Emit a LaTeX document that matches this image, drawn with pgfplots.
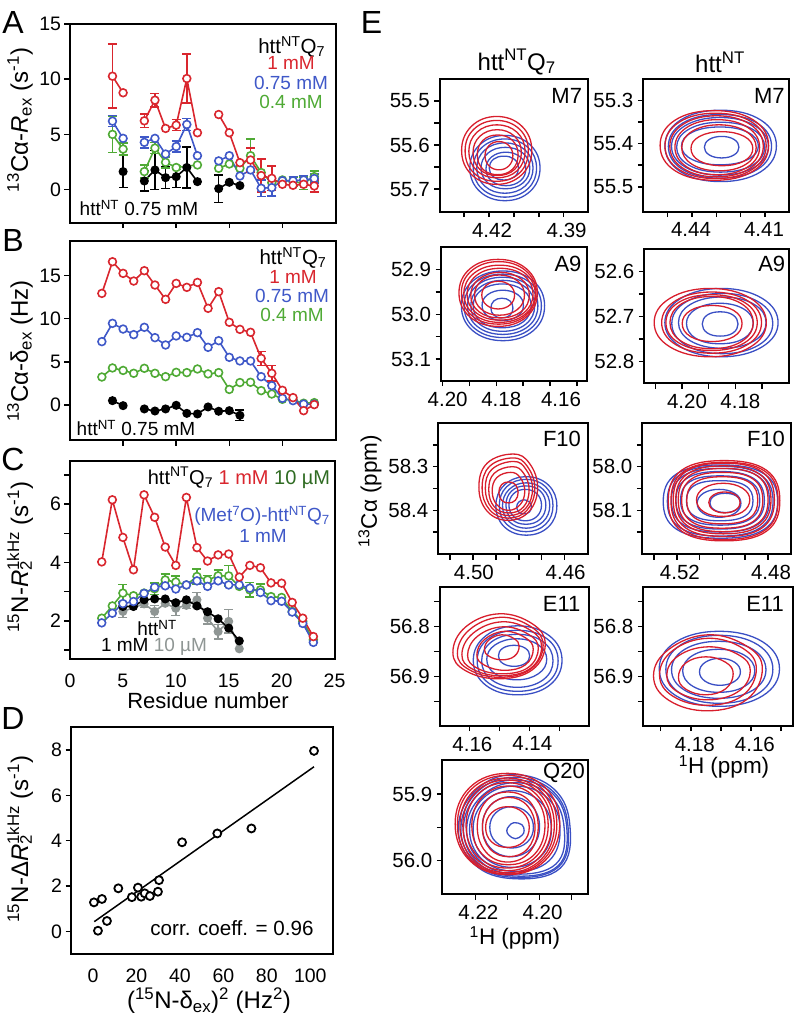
\documentclass[border=0pt]{standalone}
\usepackage{fontspec}
\setmainfont{Liberation Sans}
\usepackage{pgfplots}
\pgfplotsset{compat=1.18}
\definecolor{cR}{HTML}{D9262E}
\definecolor{cB}{HTML}{3F58C8}
\definecolor{cG}{HTML}{4FAA35}
\definecolor{cD}{HTML}{2F6B22}
\definecolor{cY}{HTML}{8F9694}
\definecolor{sR}{HTML}{D81E2C}
\definecolor{sB}{HTML}{3A4FC4}
\newcommand\fnt[1]{\fontsize{#1}{#1}\selectfont}
\newcommand\htt{htt\textsuperscript{NT}}
\newcommand\httq{htt\textsuperscript{NT}Q\textsubscript{7}}
\newcommand\rtwo{\textit{R}\rlap{\textsubscript{2}}\textsuperscript{1kHz}}
\pgfplotsset{
  base/.style={scale only axis, axis line style={line width=2pt}, tick style={black,line width=1.5pt},
    tick align=outside, xtick pos=bottom, ytick pos=left, major tick length=5.5pt,
    ticklabel style={font=\fnt{19.5}}, /pgf/number format/assume math mode=true, scaled ticks=false,
    unbounded coords=jump},
  spec/.style={base, x dir=reverse, y dir=reverse, ticklabel style={font=\fnt{20.5}},
    yticklabel style={xshift=-1pt}, xticklabel style={yshift=-2pt}},
  rc/.style={color=sR,line width=1.3pt,no markers,smooth cycle,tension=0.7},
  bc/.style={color=sB,line width=1.3pt,no markers,smooth cycle,tension=0.7},
  op/.style={color=#1,line width=1.6pt,mark=*,mark size=3.9pt,mark options={fill=white,line width=1.6pt},
    error bars/.cd,y dir=both,y explicit,error bar style={line width=1.5pt},
    error mark options={rotate=90,mark size=4.5pt,line width=1.5pt}},
  fl/.style={color=#1,line width=1.6pt,mark=*,mark size=3.7pt,mark options={fill=#1},
    error bars/.cd,y dir=both,y explicit,error bar style={line width=1.5pt},
    error mark options={rotate=90,mark size=4.5pt,line width=1.5pt}},
}
\newcommand\Rc[1]{\addplot[rc] coordinates {#1};}
\newcommand\Bc[1]{\addplot[bc] coordinates {#1};}
\begin{document}
\begin{tikzpicture}[x=1pt,y=-1pt]
\path[use as bounding box] (0,0) rectangle (796,1017);
% A
\begin{axis}[base,at={(70pt,-222.7pt)},anchor=south west,width=265.5pt,height=198.7pt,xmin=0,xmax=25,ymin=-3,ymax=15,
  xtick={5,10,15,20},xticklabels={},ytick={0,5,10,15}]
\addplot[fl=black] coordinates {(5,1.63)+-(0,1.45)(6,nan)(7,0.78)+-(0,0.9)(8,1.78)+-(0,1.75)(9,1.08)+-(0,1)(10,1.17)+-(0,1)(11,2)+-(0,1.85)(12,0.72)(13,nan)(14,0.09)+-(0,1.25)(15,0.66)(16,0.36)};
\addplot[op=cG] coordinates {(4,5)+-(0,1.65)(5,3.67)+-(0,0.55)(6,nan)(7,1.63)+-(0,0.6)(8,3.76)+-(0,0.5)(9,2.47)+-(0,0.5)(10,2)+-(0,0.2)(12,2.23)(13,nan)(14,1.93)(15,2.32)(16,1.93)(17,3.07)+-(0,1.5)(18,1.54)(19,0.63)(20,0.87)(21,0.72)+-(0,0.4)(22,0.57)+-(0,0.55)(23,1.17)+-(0,0.5)};
\addplot[op=cB] coordinates {(4,6.2)+-(0,0.5)(5,4.64)(6,nan)(7,4.28)+-(0,0.5)(8,4.64)(9,3.22)(10,3.9)+-(0,0.5)(11,5.9)+-(0,0.55)(12,3.07)(13,nan)(14,2.6)(15,3.07)(16,1.23)(17,1.78)(18,0.12)+-(0,0.75)(19,0.18)+-(0,0.75)(20,0.8)(21,0.8)+-(0,0.4)(22,0.87)+-(0,0.4)(23,1)+-(0,0.4)};
\addplot[op=cR] coordinates {(4,10.27)+-(0,2.9)(5,8.77)(6,nan)(7,6.23)+-(0,0.6)(8,8.1)+-(0,0.6)(9,5.54)(10,5.84)+-(0,0.5)(11,10.06)+-(0,2.2)(12,5.15)(13,nan)(14,6.8)(15,5.15)(16,2.44)(17,2.68)+-(0,1.1)(18,1.27)+-(0,1.5)(19,1.02)+-(0,1.1)(20,0.48)(21,0.39)(22,0.48)(23,0.33)+-(0,0.55)};
\end{axis}
% B
\begin{axis}[base,at={(70pt,-440pt)},anchor=south west,width=265.5pt,height=199pt,xmin=0,xmax=25,ymin=-4.06,ymax=19,
  xtick={5,10,15,20},xticklabels={},ytick={0,5,10,15}]
\addplot[fl=black] coordinates {(4,0.5)(5,-0.08)(6,nan)(7,-0.46)(8,-0.7)(9,-0.46)(10,-0.04)(11,-0.97)(12,-1.04)(13,-0.23)(14,-0.73)(15,-0.66)(16,-1.2)+-(0,0.6)};
\addplot[op=cG] coordinates {(3,3.24)(4,4.29)(5,4)(6,3.67)(7,4.25)(8,3.67)(9,3.28)(10,3.78)(11,3.75)(12,4.17)(13,3.6)(14,3.75)(15,1.8)(16,2.6)(17,2.63)(18,1.66)(19,1.27)(20,0.66)(21,0.6)(22,0.2)(23,0.27)};
\addplot[op=cB] coordinates {(3,7.34)(4,9.46)(5,8.8)(6,8.15)(7,9)(8,7.8)(9,6.95)(10,8)(11,7.84)(12,8.38)(13,6.68)(14,7.45)(15,5.52)(16,5.1)(17,5.1)(18,3.28)(19,2.24)(20,0.77)(21,0.5)(22,0.1)(23,0.1)};
\addplot[op=cR] coordinates {(3,12.93)(4,16.6)(5,15.25)(6,14.36)(7,15.56)(8,13.9)(9,12.24)(10,14.09)(11,13.63)(12,14.2)(13,11.2)(14,13.13)(15,9.58)(16,8.76)(17,8.42)(18,5.4)+-(0,0.8)(19,3.67)+-(0,0.9)(20,1.7)(21,0.85)(22,-0.66)(23,0.04)};
\end{axis}
% C
\begin{axis}[base,at={(70pt,-659pt)},anchor=south west,width=264.5pt,height=198pt,xmin=0,xmax=25,ymin=0.69,ymax=7.48,
  xtick={0,5,...,25},ytick={1,2,...,7},yticklabels={,2,,4,,6,},major x tick style={draw=none},xticklabel style={yshift=-6pt}]
\addplot[fl=cY] coordinates {(5,2.32)+-(0,0.2)(7,2.58)+-(0,0.12)(8,2.32)+-(0,0.2)(9,2.6)(10,2.43)+-(0,0.25)(11,2.53)+-(0,0.1)(12,2.72)+-(0,0.25)(13,2.09)+-(0,0.2)(14,1.63)+-(0,0.25)(15,1.98)+-(0,0.4)(16,1.04)};
\addplot[fl=black] coordinates {(5,2.49)(6,2.49)(7,2.72)(8,2.75)(9,2.75)(10,2.62)(11,2.72)(12,2.51)(13,2.31)(14,2.07)(15,1.75)(16,1.31)};
\addplot[op=cG] coordinates {(3,2.09)(4,2.51)(5,2.95)+-(0,0.3)(6,2.86)(7,2.95)(8,3.1)+-(0,0.2)(9,3.4)+-(0,0.2)(10,3.33)+-(0,0.2)(11,3.23)(12,3.52)+-(0,0.25)(13,3.4)+-(0,0.15)(14,3.54)+-(0,0.2)(15,3.54)+-(0,0.35)(16,3.18)(17,3.06)+-(0,0.25)(18,3.06)+-(0,0.2)(19,2.83)(20,2.8)(21,2.32)(22,1.98)(23,1.35)};
\addplot[op=cB] coordinates {(3,1.93)(4,2.26)(5,2.59)(6,2.66)(7,2.94)(8,3.15)(9,3.2)(10,3.09)(11,3.23)(12,3.37)(13,3.18)(14,3.37)(15,3.23)(16,3.23)(17,3.12)(18,2.97)(19,2.69)(20,2.67)(21,2.3)(22,1.91)(23,1.26)};
\addplot[op=cR] coordinates {(3,4.02)(4,6.15)(5,4.86)(6,3.75)(7,6.32)(8,5.55)(9,4.53)(10,3.9)(11,6.23)(12,4.51)(13,4.05)(14,4.26)(15,4.29)(16,3.5)(17,3.9)(18,3.82)(19,3.3)(20,3.29)(21,2.63)(22,2.09)(23,1.46)};
\end{axis}
% D
\begin{axis}[base,at={(71pt,-954.3pt)},anchor=south west,width=261.7pt,height=227pt,xmin=-10.1,xmax=110.3,ymin=-1.01,ymax=9,
  xtick={0,20,...,100},ytick={0,2,...,8},major x tick style={draw=none},xticklabel style={yshift=-6pt}]
\addplot[black,line width=1.5pt] coordinates {(0.6,0.43)(101.7,7.26)};
\addplot[only marks,mark=*,mark size=4pt,mark options={fill=white,draw=black,line width=1.8pt}] coordinates {(0.46,1.28)(4.14,1.43)(2.3,0.03)(6.44,0.46)(11.66,1.9)(17.9,1.51)(20.7,1.93)(22.2,1.53)(23.8,1.68)(26.2,1.56)(29.9,1.75)(30.4,2.26)(41,3.93)(57.2,4.32)(72.9,4.54)(101.7,7.96)};
\end{axis}
% E, M7
\begin{axis}[spec,at={(439.7pt,-211.7pt)},anchor=south west,width=148.6pt,height=132.7pt,xmin=4.3801,xmax=4.4398,ymin=55.45,ymax=55.751,
  xtick={4.43,4.42,4.41,4.40,4.39},xticklabels={,4.42,,,4.39},ytick={55.5,55.55,55.6,55.65,55.7},yticklabels={55.5,,55.6,,55.7},xticklabel style={xshift=3pt}]
\Bc{(4.3995,55.652)(4.4035,55.599)(4.4136,55.578)(4.4237,55.599)(4.4277,55.652)(4.4237,55.705)(4.4136,55.726)(4.4035,55.705)}
\Bc{(4.4009,55.652)(4.4044,55.605)(4.4136,55.586)(4.4228,55.605)(4.4263,55.652)(4.4228,55.699)(4.4136,55.718)(4.4044,55.699)}
\Bc{(4.4023,55.652)(4.4055,55.611)(4.4136,55.595)(4.4217,55.611)(4.4249,55.652)(4.4217,55.693)(4.4136,55.709)(4.4055,55.693)}
\Bc{(4.4036,55.652)(4.4064,55.618)(4.4134,55.605)(4.4204,55.618)(4.4232,55.652)(4.4204,55.686)(4.4134,55.699)(4.4064,55.686)}
\Bc{(4.4052,55.654)(4.4074,55.627)(4.4132,55.616)(4.4190,55.627)(4.4212,55.654)(4.4190,55.681)(4.4132,55.692)(4.4074,55.681)}
\Bc{(4.4081,55.652)(4.4098,55.632)(4.4140,55.625)(4.4182,55.632)(4.4199,55.652)(4.4182,55.672)(4.4140,55.679)(4.4098,55.672)}
\Rc{(4.4028,55.612)(4.4068,55.557)(4.4169,55.535)(4.4270,55.557)(4.4310,55.612)(4.4270,55.667)(4.4169,55.689)(4.4068,55.667)}
\Rc{(4.4042,55.613)(4.4077,55.564)(4.4169,55.544)(4.4261,55.564)(4.4296,55.613)(4.4261,55.663)(4.4169,55.682)(4.4077,55.663)}
\Rc{(4.4055,55.614)(4.4087,55.571)(4.4168,55.554)(4.4249,55.571)(4.4281,55.614)(4.4249,55.658)(4.4168,55.674)(4.4087,55.658)}
\Rc{(4.4070,55.617)(4.4097,55.580)(4.4167,55.565)(4.4237,55.580)(4.4264,55.617)(4.4237,55.655)(4.4167,55.669)(4.4097,55.655)}
\Rc{(4.4083,55.622)(4.4106,55.589)(4.4165,55.577)(4.4224,55.589)(4.4247,55.622)(4.4224,55.655)(4.4165,55.667)(4.4106,55.655)}
\Rc{(4.4104,55.624)(4.4120,55.601)(4.4160,55.592)(4.4200,55.601)(4.4216,55.624)(4.4200,55.647)(4.4160,55.656)(4.4120,55.647)}
\end{axis}
\begin{axis}[spec,at={(643.3pt,-211.7pt)},anchor=south west,width=146pt,height=132.7pt,xmin=4.40,xmax=4.46,ymin=55.2495,ymax=55.558,
  xtick={4.45,4.44,4.43,4.42,4.41},xticklabels={,4.44,,,4.41},ytick={55.3,55.35,55.4,55.45,55.5},yticklabels={55.3,,55.4,,55.5},xticklabel style={xshift=-1pt}]
\Bc{(4.4053,55.405)(4.4117,55.345)(4.4282,55.322)(4.4447,55.345)(4.4511,55.405)(4.4447,55.465)(4.4282,55.488)(4.4117,55.465)}
\Bc{(4.4073,55.406)(4.4132,55.352)(4.4285,55.332)(4.4438,55.352)(4.4497,55.406)(4.4438,55.460)(4.4285,55.480)(4.4132,55.460)}
\Bc{(4.4086,55.406)(4.4142,55.358)(4.4285,55.339)(4.4428,55.358)(4.4484,55.406)(4.4428,55.454)(4.4285,55.473)(4.4142,55.454)}
\Bc{(4.4101,55.408)(4.4152,55.366)(4.4282,55.350)(4.4412,55.366)(4.4463,55.408)(4.4412,55.450)(4.4282,55.466)(4.4152,55.450)}
\Bc{(4.4127,55.405)(4.4172,55.373)(4.4285,55.361)(4.4398,55.373)(4.4443,55.405)(4.4398,55.437)(4.4285,55.449)(4.4172,55.437)}
\Bc{(4.4207,55.408)(4.4227,55.390)(4.4278,55.383)(4.4329,55.390)(4.4349,55.408)(4.4329,55.426)(4.4278,55.433)(4.4227,55.426)}
\Rc{(4.4085,55.404)(4.4147,55.345)(4.4308,55.323)(4.4469,55.345)(4.4531,55.404)(4.4469,55.463)(4.4308,55.485)(4.4147,55.463)}
\Rc{(4.4095,55.405)(4.4153,55.350)(4.4303,55.329)(4.4453,55.350)(4.4511,55.405)(4.4453,55.460)(4.4303,55.481)(4.4153,55.460)}
\Rc{(4.4107,55.406)(4.4161,55.355)(4.4299,55.335)(4.4437,55.355)(4.4491,55.406)(4.4437,55.457)(4.4299,55.477)(4.4161,55.457)}
\Rc{(4.4122,55.408)(4.4171,55.362)(4.4296,55.344)(4.4421,55.362)(4.4470,55.408)(4.4421,55.454)(4.4296,55.472)(4.4171,55.454)}
\Rc{(4.4136,55.409)(4.4179,55.371)(4.4289,55.356)(4.4399,55.371)(4.4442,55.409)(4.4399,55.448)(4.4289,55.463)(4.4179,55.448)}
\Rc{(4.4150,55.411)(4.4185,55.383)(4.4277,55.372)(4.4369,55.383)(4.4404,55.411)(4.4369,55.440)(4.4277,55.451)(4.4185,55.440)}
\end{axis}
% A9
\begin{axis}[spec,at={(441pt,-380.7pt)},anchor=south west,width=146pt,height=133.4pt,xmin=4.1462,xmax=4.2006,ymin=52.85,ymax=53.1486,
  xtick={4.20,4.19,4.18,4.17,4.16,4.15},xticklabels={4.20,,4.18,,\hspace*{12pt}4.16,},ytick={52.9,52.95,53.0,53.05,53.1},yticklabels={52.9,,53.0,,53.1},xticklabel style={xshift=5pt}]
\Bc{(4.1620,52.981)(4.1663,52.925)(4.1775,52.903)(4.1887,52.925)(4.1930,52.981)(4.1887,53.037)(4.1775,53.059)(4.1663,53.037)}
\Bc{(4.1632,52.981)(4.1672,52.930)(4.1776,52.910)(4.1880,52.930)(4.1920,52.981)(4.1880,53.032)(4.1776,53.052)(4.1672,53.032)}
\Bc{(4.1645,52.981)(4.1681,52.935)(4.1776,52.917)(4.1871,52.935)(4.1907,52.981)(4.1871,53.027)(4.1776,53.045)(4.1681,53.027)}
\Bc{(4.1657,52.981)(4.1690,52.940)(4.1776,52.924)(4.1862,52.940)(4.1895,52.981)(4.1862,53.022)(4.1776,53.038)(4.1690,53.022)}
\Bc{(4.1670,52.981)(4.1700,52.946)(4.1778,52.932)(4.1856,52.946)(4.1886,52.981)(4.1856,53.017)(4.1778,53.030)(4.1700,53.017)}
\Bc{(4.1699,52.980)(4.1720,52.956)(4.1776,52.946)(4.1832,52.956)(4.1853,52.980)(4.1832,53.004)(4.1776,53.014)(4.1720,53.004)}
\Bc{(4.1738,52.986)(4.1749,52.970)(4.1779,52.964)(4.1809,52.970)(4.1820,52.986)(4.1809,53.002)(4.1779,53.008)(4.1749,53.002)}
\Rc{(4.1647,52.952)(4.1688,52.898)(4.1793,52.877)(4.1898,52.898)(4.1939,52.952)(4.1898,53.006)(4.1793,53.027)(4.1688,53.006)}
\Rc{(4.1652,52.952)(4.1691,52.902)(4.1791,52.882)(4.1891,52.902)(4.1930,52.952)(4.1891,53.003)(4.1791,53.022)(4.1691,53.003)}
\Rc{(4.1655,52.954)(4.1693,52.908)(4.1788,52.890)(4.1883,52.908)(4.1921,52.954)(4.1883,53.000)(4.1788,53.018)(4.1693,53.000)}
\Rc{(4.1663,52.955)(4.1698,52.913)(4.1786,52.897)(4.1874,52.913)(4.1909,52.955)(4.1874,52.997)(4.1786,53.013)(4.1698,52.997)}
\Rc{(4.1677,52.957)(4.1707,52.921)(4.1786,52.906)(4.1865,52.921)(4.1895,52.957)(4.1865,52.994)(4.1786,53.008)(4.1707,52.994)}
\Rc{(4.1695,52.957)(4.1721,52.925)(4.1788,52.912)(4.1855,52.925)(4.1881,52.957)(4.1855,52.989)(4.1788,53.002)(4.1721,52.989)}
\Rc{(4.1732,52.957)(4.1749,52.935)(4.1793,52.926)(4.1837,52.935)(4.1854,52.957)(4.1837,52.979)(4.1793,52.988)(4.1749,52.979)}
\end{axis}
\begin{axis}[spec,at={(644.3pt,-383.3pt)},anchor=south west,width=145pt,height=134.3pt,xmin=4.1598,xmax=4.2141,ymin=52.5504,ymax=52.8489,
  xtick={4.21,4.20,4.19,4.18,4.17},xticklabels={,4.20,,4.18,},ytick={52.6,52.65,52.7,52.75,52.8},yticklabels={52.6,,52.7,,52.8},xticklabel style={xshift=5pt}]
\Bc{(4.1640,52.714)(4.1700,52.660)(4.1852,52.638)(4.2004,52.660)(4.2064,52.714)(4.2004,52.768)(4.1852,52.790)(4.1700,52.768)}
\Bc{(4.1660,52.716)(4.1713,52.668)(4.1849,52.649)(4.1985,52.668)(4.2038,52.716)(4.1985,52.764)(4.1849,52.783)(4.1713,52.764)}
\Bc{(4.1685,52.714)(4.1731,52.673)(4.1849,52.657)(4.1967,52.673)(4.2013,52.714)(4.1967,52.755)(4.1849,52.771)(4.1731,52.755)}
\Bc{(4.1733,52.716)(4.1768,52.684)(4.1858,52.671)(4.1948,52.684)(4.1983,52.716)(4.1948,52.749)(4.1858,52.761)(4.1768,52.749)}
\Bc{(4.1790,52.717)(4.1809,52.697)(4.1857,52.690)(4.1905,52.697)(4.1924,52.717)(4.1905,52.737)(4.1857,52.744)(4.1809,52.737)}
\Rc{(4.1684,52.714)(4.1743,52.660)(4.1894,52.638)(4.2045,52.660)(4.2104,52.714)(4.2045,52.768)(4.1894,52.790)(4.1743,52.768)}
\Rc{(4.1702,52.714)(4.1755,52.665)(4.1889,52.646)(4.2023,52.665)(4.2076,52.714)(4.2023,52.763)(4.1889,52.782)(4.1755,52.763)}
\Rc{(4.1718,52.714)(4.1766,52.669)(4.1889,52.652)(4.2012,52.669)(4.2060,52.714)(4.2012,52.759)(4.1889,52.776)(4.1766,52.759)}
\Rc{(4.1733,52.714)(4.1777,52.672)(4.1889,52.656)(4.2001,52.672)(4.2045,52.714)(4.2001,52.756)(4.1889,52.772)(4.1777,52.756)}
\Rc{(4.1775,52.716)(4.1806,52.687)(4.1887,52.676)(4.1968,52.687)(4.1999,52.716)(4.1968,52.745)(4.1887,52.756)(4.1806,52.745)}
\end{axis}
% F10
\begin{axis}[spec,at={(438.3pt,-554pt)},anchor=south west,width=150pt,height=130.7pt,xmin=4.4497,xmax=4.5151,ymin=58.2005,ymax=58.5002,
  xtick={4.51,4.50,4.49,4.48,4.47,4.46},xticklabels={,4.50,,,,4.46},ytick={58.25,58.3,58.35,58.4,58.45},yticklabels={,58.3,,58.4,},xticklabel style={xshift=1pt}]
\Bc{(4.4634,58.390)(4.4671,58.342)(4.4767,58.323)(4.4863,58.342)(4.4900,58.390)(4.4863,58.438)(4.4767,58.457)(4.4671,58.438)}
\Bc{(4.4651,58.389)(4.4683,58.346)(4.4768,58.329)(4.4853,58.346)(4.4885,58.389)(4.4853,58.432)(4.4768,58.449)(4.4683,58.432)}
\Bc{(4.4665,58.389)(4.4694,58.352)(4.4768,58.337)(4.4842,58.352)(4.4871,58.389)(4.4842,58.426)(4.4768,58.441)(4.4694,58.426)}
\Bc{(4.4682,58.388)(4.4706,58.356)(4.4769,58.344)(4.4832,58.356)(4.4856,58.388)(4.4832,58.420)(4.4769,58.432)(4.4706,58.420)}
\Bc{(4.4701,58.388)(4.4721,58.362)(4.4772,58.352)(4.4823,58.362)(4.4843,58.388)(4.4823,58.414)(4.4772,58.424)(4.4721,58.414)}
\Bc{(4.4745,58.392)(4.4754,58.381)(4.4777,58.376)(4.4800,58.381)(4.4809,58.392)(4.4800,58.404)(4.4777,58.408)(4.4754,58.404)}
\Rc{(4.4718,58.347)(4.4754,58.292)(4.4826,58.271)(4.4938,58.292)(4.4974,58.347)(4.4938,58.402)(4.4846,58.423)(4.4754,58.402)}
\Rc{(4.4730,58.349)(4.4763,58.299)(4.4825,58.280)(4.4927,58.299)(4.4960,58.349)(4.4927,58.399)(4.4845,58.418)(4.4763,58.399)}
\Rc{(4.4740,58.350)(4.4769,58.306)(4.4823,58.288)(4.4917,58.306)(4.4946,58.350)(4.4917,58.395)(4.4843,58.412)(4.4769,58.395)}
\Rc{(4.4755,58.353)(4.4779,58.315)(4.4828,58.300)(4.4907,58.315)(4.4931,58.353)(4.4907,58.392)(4.4843,58.406)(4.4779,58.392)}
\Rc{(4.4774,58.356)(4.4794,58.325)(4.4835,58.313)(4.4896,58.325)(4.4916,58.356)(4.4896,58.387)(4.4845,58.400)(4.4794,58.387)}
\Rc{(4.4803,58.359)(4.4815,58.341)(4.4845,58.335)(4.4875,58.341)(4.4887,58.359)(4.4875,58.377)(4.4845,58.383)(4.4815,58.377)}
\end{axis}
\begin{axis}[spec,at={(642.3pt,-554pt)},anchor=south west,width=148.7pt,height=130.7pt,xmin=4.4699,xmax=4.5352,ymin=57.9005,ymax=58.2002,
  xtick={4.53,4.52,4.51,4.50,4.49,4.48},xticklabels={,4.52,,,,4.48},ytick={57.95,58.0,58.05,58.1,58.15},yticklabels={,58.0,,58.1,},xticklabel style={xshift=3pt}]
\Bc{(4.4758,58.080)(4.4818,58.016)(4.5009,57.996)(4.5200,58.016)(4.5260,58.080)(4.5200,58.144)(4.5009,58.164)(4.4818,58.144)}
\Bc{(4.4778,58.079)(4.4834,58.018)(4.5010,57.999)(4.5186,58.018)(4.5242,58.079)(4.5186,58.140)(4.5010,58.159)(4.4834,58.140)}
\Bc{(4.4794,58.077)(4.4846,58.021)(4.5009,58.004)(4.5172,58.021)(4.5224,58.077)(4.5172,58.133)(4.5009,58.150)(4.4846,58.133)}
\Bc{(4.4816,58.077)(4.4863,58.027)(4.5010,58.011)(4.5157,58.027)(4.5204,58.077)(4.5157,58.127)(4.5010,58.143)(4.4863,58.127)}
\Bc{(4.4836,58.077)(4.4878,58.034)(4.5010,58.021)(4.5142,58.034)(4.5184,58.077)(4.5142,58.120)(4.5010,58.134)(4.4878,58.120)}
\Bc{(4.4866,58.078)(4.4901,58.043)(4.5012,58.032)(4.5123,58.043)(4.5158,58.078)(4.5123,58.113)(4.5012,58.124)(4.4901,58.113)}
\Bc{(4.4919,58.084)(4.4946,58.061)(4.5015,58.052)(4.5084,58.061)(4.5111,58.084)(4.5084,58.107)(4.5015,58.116)(4.4946,58.107)}
\Bc{(4.4921,58.083)(4.4940,58.067)(4.4988,58.061)(4.5036,58.067)(4.5055,58.083)(4.5036,58.099)(4.4988,58.105)(4.4940,58.099)}
\Rc{(4.4748,58.078)(4.4807,58.008)(4.4993,57.986)(4.5179,58.008)(4.5238,58.078)(4.5179,58.148)(4.4993,58.170)(4.4807,58.148)}
\Rc{(4.4756,58.078)(4.4812,58.011)(4.4991,57.990)(4.5170,58.011)(4.5226,58.078)(4.5170,58.145)(4.4991,58.167)(4.4812,58.145)}
\Rc{(4.4772,58.076)(4.4825,58.012)(4.4994,57.992)(4.5163,58.012)(4.5216,58.076)(4.5163,58.140)(4.4994,58.160)(4.4825,58.140)}
\Rc{(4.4787,58.076)(4.4837,58.017)(4.4996,57.998)(4.5155,58.017)(4.5205,58.076)(4.5155,58.135)(4.4996,58.154)(4.4837,58.135)}
\Rc{(4.4800,58.076)(4.4847,58.021)(4.4997,58.004)(4.5147,58.021)(4.5194,58.076)(4.5147,58.131)(4.4997,58.149)(4.4847,58.131)}
\Rc{(4.4823,58.077)(4.4866,58.028)(4.5001,58.013)(4.5136,58.028)(4.5179,58.077)(4.5136,58.126)(4.5001,58.141)(4.4866,58.126)}
\Rc{(4.4845,58.077)(4.4882,58.036)(4.5001,58.023)(4.5120,58.036)(4.5157,58.077)(4.5120,58.118)(4.5001,58.131)(4.4882,58.118)}
\Rc{(4.4880,58.076)(4.4913,58.049)(4.4997,58.038)(4.5081,58.049)(4.5114,58.076)(4.5081,58.104)(4.4997,58.114)(4.4913,58.104)}
\Rc{(4.4922,58.082)(4.4942,58.065)(4.4991,58.058)(4.5040,58.065)(4.5060,58.082)(4.5040,58.099)(4.4991,58.106)(4.4942,58.099)}
\end{axis}
% E11
\begin{axis}[spec,at={(439.7pt,-725.7pt)},anchor=south west,width=149.3pt,height=138.4pt,xmin=4.1201,xmax=4.1699,ymin=56.722,ymax=56.9988,
  xtick={4.16,4.15,4.14,4.13},xticklabels={4.16,,4.14,},ytick={56.75,56.8,56.85,56.9,56.95},yticklabels={,56.8,,56.9,},xticklabel style={xshift=3pt}]
\Bc{(4.1291,56.868)(4.1333,56.819)(4.1439,56.799)(4.1545,56.819)(4.1587,56.868)(4.1545,56.918)(4.1439,56.937)(4.1333,56.918)}
\Bc{(4.1304,56.869)(4.1341,56.825)(4.1439,56.808)(4.1537,56.825)(4.1574,56.869)(4.1537,56.913)(4.1439,56.930)(4.1341,56.913)}
\Bc{(4.1321,56.869)(4.1354,56.831)(4.1440,56.816)(4.1526,56.831)(4.1559,56.869)(4.1526,56.907)(4.1440,56.922)(4.1354,56.907)}
\Bc{(4.1342,56.866)(4.1370,56.837)(4.1442,56.825)(4.1514,56.837)(4.1542,56.866)(4.1514,56.895)(4.1442,56.907)(4.1370,56.895)}
\Bc{(4.1399,56.859)(4.1413,56.844)(4.1451,56.838)(4.1489,56.844)(4.1503,56.859)(4.1489,56.874)(4.1451,56.880)(4.1413,56.874)}
\Rc{(4.1347,56.836)(4.1390,56.795)(4.1501,56.775)(4.1612,56.801)(4.1655,56.852)(4.1612,56.889)(4.1501,56.905)(4.1390,56.887)}
\Rc{(4.1354,56.838)(4.1394,56.801)(4.1497,56.782)(4.1600,56.807)(4.1640,56.854)(4.1600,56.887)(4.1497,56.902)(4.1394,56.885)}
\Rc{(4.1359,56.841)(4.1396,56.808)(4.1492,56.791)(4.1588,56.814)(4.1625,56.857)(4.1588,56.886)(4.1492,56.899)(4.1396,56.884)}
\Rc{(4.1370,56.844)(4.1403,56.816)(4.1488,56.801)(4.1573,56.820)(4.1606,56.858)(4.1573,56.884)(4.1488,56.895)(4.1403,56.882)}
\Rc{(4.1387,56.846)(4.1413,56.823)(4.1481,56.810)(4.1549,56.826)(4.1575,56.857)(4.1549,56.878)(4.1481,56.888)(4.1413,56.877)}
\Rc{(4.1434,56.840)(4.1450,56.825)(4.1492,56.817)(4.1534,56.827)(4.1550,56.846)(4.1534,56.860)(4.1492,56.867)(4.1450,56.860)}
\end{axis}
\begin{axis}[spec,at={(643.3pt,-725.7pt)},anchor=south west,width=149.4pt,height=138.4pt,xmin=4.1461,xmax=4.1958,ymin=56.722,ymax=56.9988,
  xtick={4.19,4.18,4.17,4.16,4.15},xticklabels={,4.18,,4.16,},ytick={56.75,56.8,56.85,56.9,56.95},yticklabels={,56.8,,56.9,},xticklabel style={xshift=4pt}]
\Bc{(4.1505,56.885)(4.1561,56.831)(4.1705,56.810)(4.1849,56.831)(4.1905,56.885)(4.1849,56.939)(4.1705,56.960)(4.1561,56.939)}
\Bc{(4.1527,56.886)(4.1577,56.837)(4.1705,56.818)(4.1833,56.837)(4.1883,56.886)(4.1833,56.935)(4.1705,56.954)(4.1577,56.935)}
\Bc{(4.1550,56.887)(4.1594,56.846)(4.1707,56.830)(4.1820,56.846)(4.1864,56.887)(4.1820,56.928)(4.1707,56.944)(4.1594,56.928)}
\Bc{(4.1587,56.889)(4.1621,56.858)(4.1707,56.846)(4.1793,56.858)(4.1827,56.889)(4.1793,56.920)(4.1707,56.932)(4.1621,56.920)}
\Bc{(4.1635,56.891)(4.1654,56.872)(4.1703,56.864)(4.1752,56.872)(4.1771,56.891)(4.1752,56.910)(4.1703,56.918)(4.1654,56.910)}
\Rc{(4.1562,56.885)(4.1613,56.840)(4.1743,56.817)(4.1873,56.846)(4.1924,56.899)(4.1873,56.948)(4.1743,56.969)(4.1613,56.946)}
\Rc{(4.1582,56.885)(4.1627,56.844)(4.1743,56.824)(4.1859,56.848)(4.1904,56.897)(4.1859,56.940)(4.1743,56.958)(4.1627,56.938)}
\Rc{(4.1602,56.889)(4.1641,56.857)(4.1741,56.841)(4.1841,56.859)(4.1880,56.898)(4.1841,56.932)(4.1741,56.947)(4.1641,56.930)}
\Rc{(4.1659,56.895)(4.1684,56.872)(4.1750,56.861)(4.1816,56.873)(4.1841,56.902)(4.1816,56.926)(4.1750,56.937)(4.1684,56.925)}
\end{axis}
% Q20
\begin{axis}[spec,at={(442.3pt,-894.3pt)},anchor=south west,width=146pt,height=134.3pt,xmin=4.1848,xmax=4.2303,ymin=55.849,ymax=56.0504,
  xtick={4.22,4.21,4.20,4.19},xticklabels={4.22,,4.20,},ytick={55.9,55.95,56.0},yticklabels={55.9,,56.0},xticklabel style={xshift=3pt}]
\Bc{(4.1905,55.949)(4.1954,55.893)(4.2079,55.871)(4.2195,55.893)(4.2253,55.949)(4.2204,56.005)(4.2079,56.027)(4.1935,56.011)}
\Bc{(4.1911,55.950)(4.1958,55.896)(4.2078,55.875)(4.2192,55.896)(4.2245,55.950)(4.2198,56.004)(4.2078,56.025)(4.1940,56.009)}
\Bc{(4.1915,55.951)(4.1960,55.899)(4.2076,55.879)(4.2188,55.899)(4.2237,55.951)(4.2192,56.003)(4.2076,56.023)(4.1943,56.008)}
\Bc{(4.1923,55.952)(4.1966,55.903)(4.2075,55.883)(4.2180,55.903)(4.2227,55.952)(4.2184,56.001)(4.2075,56.020)(4.1949,56.005)}
\Bc{(4.1936,55.952)(4.1975,55.906)(4.2077,55.888)(4.2175,55.906)(4.2218,55.952)(4.2179,55.998)(4.2077,56.016)(4.1970,56.000)}
\Bc{(4.1963,55.953)(4.1997,55.912)(4.2085,55.895)(4.2173,55.912)(4.2207,55.953)(4.2173,55.994)(4.2085,56.010)(4.1997,55.994)}
\Bc{(4.2000,55.949)(4.2025,55.917)(4.2089,55.904)(4.2153,55.917)(4.2178,55.949)(4.2153,55.981)(4.2089,55.994)(4.2025,55.981)}
\Bc{(4.2019,55.950)(4.2038,55.928)(4.2087,55.919)(4.2136,55.928)(4.2155,55.950)(4.2136,55.972)(4.2087,55.981)(4.2038,55.972)}
\Bc{(4.2048,55.955)(4.2055,55.946)(4.2080,55.943)(4.2095,55.948)(4.2102,55.955)(4.2095,55.962)(4.2075,55.967)(4.2055,55.962)}
\Rc{(4.1937,55.945)(4.1983,55.890)(4.2100,55.869)(4.2217,55.890)(4.2263,55.945)(4.2217,56.000)(4.2100,56.021)(4.1983,56.000)}
\Rc{(4.1946,55.946)(4.1989,55.893)(4.2101,55.872)(4.2213,55.893)(4.2256,55.946)(4.2213,55.999)(4.2101,56.020)(4.1989,55.999)}
\Rc{(4.1954,55.947)(4.1995,55.896)(4.2101,55.876)(4.2207,55.896)(4.2248,55.947)(4.2207,55.998)(4.2101,56.018)(4.1995,55.998)}
\Rc{(4.1963,55.947)(4.2002,55.898)(4.2101,55.879)(4.2200,55.898)(4.2239,55.947)(4.2200,55.996)(4.2101,56.015)(4.2002,55.996)}
\Rc{(4.1973,55.947)(4.2009,55.901)(4.2101,55.883)(4.2193,55.901)(4.2229,55.947)(4.2193,55.993)(4.2101,56.011)(4.2009,55.993)}
\Rc{(4.1983,55.947)(4.2015,55.905)(4.2097,55.888)(4.2179,55.905)(4.2211,55.947)(4.2179,55.990)(4.2097,56.006)(4.2015,55.990)}
\Rc{(4.2004,55.949)(4.2031,55.911)(4.2099,55.897)(4.2167,55.911)(4.2194,55.949)(4.2167,55.987)(4.2099,56.002)(4.2031,55.987)}
\Rc{(4.2014,55.950)(4.2037,55.918)(4.2096,55.905)(4.2155,55.918)(4.2178,55.950)(4.2155,55.982)(4.2096,55.994)(4.2037,55.982)}
\Rc{(4.2032,55.950)(4.2051,55.928)(4.2100,55.919)(4.2149,55.928)(4.2168,55.950)(4.2149,55.972)(4.2100,55.980)(4.2051,55.972)}
\end{axis}
% letters
\tikzset{every node/.style={inner sep=0pt,outer sep=0pt}}
\node[font=\fnt{32}] at (13,22) {A};
\node[font=\fnt{32}] at (13,240) {B};
\node[font=\fnt{32}] at (13,459) {C};
\node[font=\fnt{32}] at (13,718) {D};
\node[font=\fnt{32}] at (371.5,22) {E};
% y labels
\node[font=\fnt{24},rotate=90] at (20,120) {\textsuperscript{13}Cα-\textit{R}\textsubscript{ex} (s\textsuperscript{-1})};
\node[font=\fnt{24},rotate=90] at (20,351) {\textsuperscript{13}Cα-δ\textsubscript{ex} (Hz)};
\node[font=\fnt{24},rotate=90] at (20,557) {\textsuperscript{15}N-\rtwo\ (s\textsuperscript{-1})};
\node[font=\fnt{24},rotate=90] at (20,839) {\textsuperscript{15}N-Δ\rtwo\ (s\textsuperscript{-1})};
\node[font=\fnt{22}] at (208,701) {Residue number};
\node[font=\fnt{24}] at (209,1001) {(\textsuperscript{15}N-δ\textsubscript{ex})\textsuperscript{2} (Hz\textsuperscript{2})};
% panel text
\begin{scope}[font=\fnt{19}]
\node[font=\fnt{20.5}] at (291.7,47) {\httq};
\node[text=cR] at (291,63) {1 mM};
\node[text=cB] at (291,83) {0.75 mM};
\node[text=cG] at (291,102) {0.4 mM};
\node at (139,208) {\htt\ 0.75 mM};
\node[font=\fnt{20.5}] at (293,258) {\httq};
\node[text=cR] at (293,277) {1 mM};
\node[text=cB] at (292,296) {0.75 mM};
\node[text=cG] at (292,315) {0.4 mM};
\node at (136,428) {\htt\ 0.75 mM};
\node[font=\fnt{20}] at (239,478) {\httq\ \textcolor{cR}{1 mM} \textcolor{cD}{10 µM}};
\node[text=cB] at (262,516) {(Met\textsuperscript{7}O)-\httq};
\node[text=cB] at (263,536) {1 mM};
\node at (157,628) {\htt};
\node at (154,647) {1 mM \textcolor{cY}{10 µM}};
\node[font=\fnt{20.6}] at (232,928) {corr. coeff. = 0.96};
\end{scope}
% E text
\node[font=\fnt{24}] at (516.7,62) {\httq};
\node[font=\fnt{24}] at (720,62) {\htt};
\begin{scope}[font=\fnt{22}]
\node at (566.7,95.7) {M7};
\node at (769.3,95.7) {M7};
\node at (568,264) {A9};
\node at (771.7,264) {A9};
\node at (562,439) {F10};
\node at (766,439) {F10};
\node at (561.7,604) {E11};
\node at (765,604) {E11};
\node at (564,773) {Q20};
\end{scope}
\node[font=\fnt{22.5},rotate=90] at (370,491) {\textsuperscript{13}Cα (ppm)};
\node[font=\fnt{22.5}] at (515,938) {\textsuperscript{1}H (ppm)};
\node[font=\fnt{22.5}] at (724,767) {\textsuperscript{1}H (ppm)};
\end{tikzpicture}
\end{document}
